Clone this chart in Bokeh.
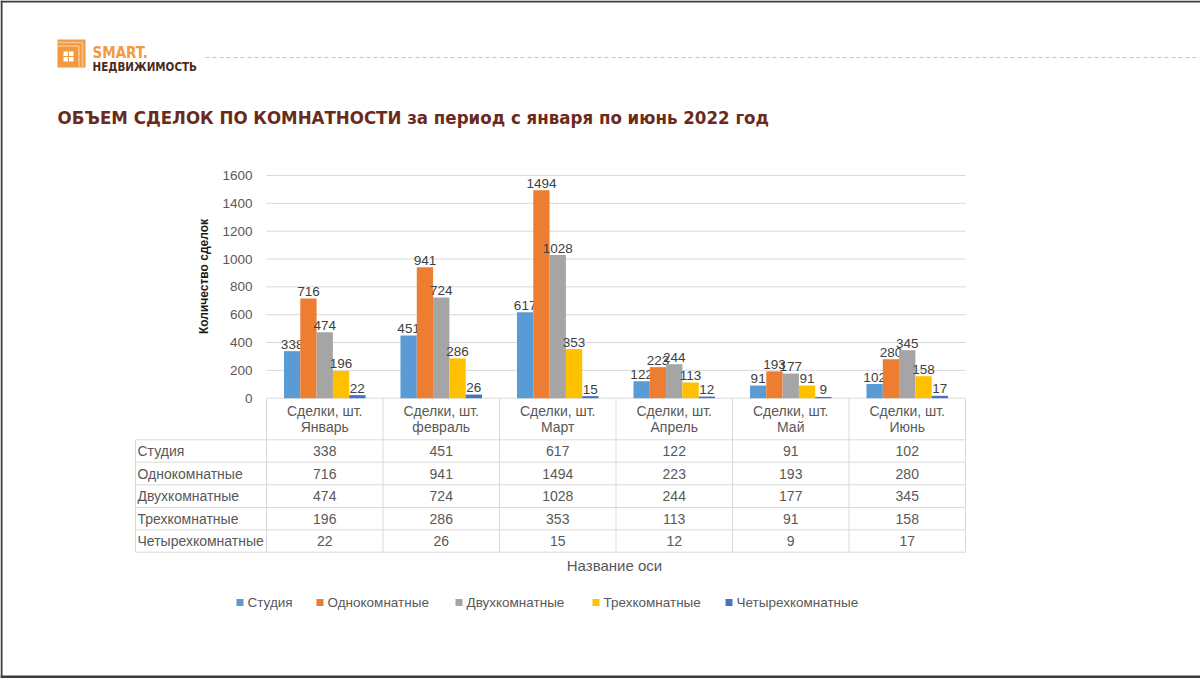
import math
from bokeh.plotting import figure
from bokeh.models import Range1d
from bokeh.core.properties import value
from bokeh.embed import file_html
from bokeh.resources import INLINE

# ---------------- data ----------------
months = ["Январь", "февраль", "Март", "Апрель", "Май", "Июнь"]
header_top = "Сделки, шт."
series = ["Студия", "Однокомнатные", "Двухкомнатные", "Трехкомнатные", "Четырехкомнатные"]
studio = [338, 451, 617, 122, 91, 102]
one_room = [716, 941, 1494, 223, 193, 280]
two_room = [474, 724, 1028, 244, 177, 345]
three_room = [196, 286, 353, 113, 91, 158]
four_room = [22, 26, 15, 12, 9, 17]
y_ticks = [0, 200, 400, 600, 800, 1000, 1200, 1400, 1600]
colors = ["#5B9BD5", "#ED7D31", "#A5A5A5", "#FFC000", "#4472C4"]
title_text = "ОБЪЕМ СДЕЛОК ПО КОМНАТНОСТИ за период с января по июнь 2022 год"
y_title = "Количество сделок"
x_title = "Название оси"
logo_top = "SMART."
logo_bottom = "НЕДВИЖИМОСТЬ"

values = [studio, one_room, two_room, three_room, four_room]

# ---------------- layout (reference pixel geometry) ----------------
W, H = 1200, 678
OFF = 0
PX0, PPX = 266.0, 116.5          # x of first category edge, px per category
PY0, PPY = 397.7, 222.7 / 1600   # y of value 0, px per unit


def X(rx):
    return (rx - PX0) / PPX


def Y(ry):
    return (PY0 - ry) / PPY


p = figure(width=W, height=H, output_backend="svg", toolbar_location=None,
           x_range=Range1d(X(OFF), X(OFF + W)), y_range=Range1d(Y(OFF + H), Y(OFF)),
           min_border=0, x_axis_location=None, y_axis_location=None,
           outline_line_color=None, background_fill_color="white")
p.grid.visible = False

FONT = value("Liberation Sans")
NARROW = value("'DejaVu Sans Condensed', Roboto, sans-serif")
GRID = "#d9d9d9"
TXT = "#595959"
LBL = "#404040"
n = len(months)

# window frame edges of the screenshot
p.quad(left=[X(0), X(0), X(0)], right=[X(W), X(2), X(W)],
       top=[Y(0), Y(0), Y(675)], bottom=[Y(2), Y(H), Y(H)],
       fill_color="#3c3c3c", line_color=None)

# gridlines
p.segment(x0=[0] * len(y_ticks), x1=[n] * len(y_ticks), y0=y_ticks, y1=y_ticks,
          line_color=GRID, line_width=1)
# y tick labels
p.text(x=[X(252)] * len(y_ticks), y=y_ticks, text=[str(t) for t in y_ticks],
       text_font=FONT, text_font_size="13.5px", text_color=TXT,
       text_align="right", text_baseline="middle")
# y axis title
p.text(x=[X(203)], y=[Y(276)], text=[y_title], angle=math.pi / 2,
       text_font=FONT, text_font_size="12px", text_font_style="bold",
       text_color="#1a1a1a", text_align="center", text_baseline="middle")

# bars + labels
bw = 0.14
for k, (vals, col) in enumerate(zip(values, colors)):
    xs = [i + 0.5 + (k - 2) * bw for i in range(n)]
    p.vbar(x=xs, top=vals, bottom=0, width=bw, fill_color=col, line_color=None)
    p.text(x=xs, y=vals, text=[str(v) for v in vals], text_font=FONT,
           text_font_size="13.5px", text_color=LBL, text_align="center",
           text_baseline="alphabetic", y_offset=-7)

# ---------------- data table ----------------
row_lines = [439.3, 461.7, 484.3, 507.0, 529.3, 551.7]
p.segment(x0=list(range(n + 1)), x1=list(range(n + 1)),
          y0=[0] * (n + 1), y1=[Y(row_lines[-1])] * (n + 1),
          line_color=GRID, line_width=1)
p.segment(x0=[X(135)], x1=[X(135)], y0=[Y(row_lines[0])], y1=[Y(row_lines[-1])],
          line_color=GRID, line_width=1)
p.segment(x0=[X(135)] * len(row_lines), x1=[n] * len(row_lines),
          y0=[Y(r) for r in row_lines], y1=[Y(r) for r in row_lines],
          line_color=GRID, line_width=1)
cx = [i + 0.5 for i in range(n)]
p.text(x=cx, y=[Y(410)] * n, text=[header_top] * n, text_font=FONT,
       text_font_size="14px", text_color=TXT, text_align="center", text_baseline="middle")
p.text(x=cx, y=[Y(426)] * n, text=months, text_font=FONT,
       text_font_size="14px", text_color=TXT, text_align="center", text_baseline="middle")
for r, (name, vals) in enumerate(zip(series, values)):
    yc = Y((row_lines[r] + row_lines[r + 1]) / 2)
    p.text(x=[X(137)], y=[yc], text=[name], text_font=FONT, text_font_size="14px",
           text_color=TXT, text_align="left", text_baseline="middle")
    p.text(x=cx, y=[yc] * n, text=[str(v) for v in vals], text_font=FONT,
           text_font_size="14px", text_color=TXT, text_align="center", text_baseline="middle")

p.text(x=[X(614)], y=[Y(565)], text=[x_title], text_font=FONT, text_font_size="15px",
       text_color=TXT, text_align="center", text_baseline="middle")

# ---------------- legend ----------------
leg_text_x = [247, 327, 466, 603, 736]
leg_y = 602
sq = 7
p.quad(left=[X(t - 11) for t in leg_text_x], right=[X(t - 11 + sq) for t in leg_text_x],
       top=[Y(leg_y - sq / 2)] * 5, bottom=[Y(leg_y + sq / 2)] * 5,
       fill_color=colors, line_color=None)
p.text(x=[X(t) for t in leg_text_x], y=[Y(leg_y)] * 5, text=series, text_font=FONT,
       text_font_size="13.5px", text_color=TXT, text_align="left", text_baseline="middle")

# ---------------- header: logo, dashed rule, title ----------------
ORANGE = "#F29A3F"
LIGHT = "#F8C48C"
p.quad(left=[X(57)], right=[X(85)], top=[Y(39)], bottom=[Y(67)], fill_color=ORANGE, line_color=None)
p.segment(x0=[X(57), X(57)], x1=[X(82), X(78.5)], y0=[Y(42), Y(45.5)], y1=[Y(42), Y(45.5)],
          line_color=LIGHT, line_width=1.5)
p.segment(x0=[X(82), X(78.5)], x1=[X(82), X(78.5)], y0=[Y(42), Y(45.5)], y1=[Y(67), Y(67)],
          line_color=LIGHT, line_width=1.5)
wl = [63, 68.5, 63, 68.5]
wt = [51, 51, 56.5, 56.5]
p.quad(left=[X(a) for a in wl], right=[X(a + 4.5) for a in wl],
       top=[Y(b) for b in wt], bottom=[Y(b + 4.5) for b in wt],
       fill_color="white", line_color=None)
p.text(x=[X(92)], y=[Y(52)], text=[logo_top], text_font=NARROW, text_font_size="15px",
       text_font_style="bold", text_color=ORANGE, text_align="left", text_baseline="alphabetic")
p.text(x=[X(92)], y=[Y(66.5)], text=[logo_bottom], text_font=NARROW, text_font_size="11.5px",
       text_font_style="bold", text_color="#4a2a1e", text_align="left", text_baseline="alphabetic")
p.line(x=[X(205), X(OFF + W)], y=[Y(57)] * 2, line_color="#d8c48c", line_width=1, line_dash="4 3")

p.text(x=[X(57)], y=[Y(117)], text=[title_text], text_font=NARROW, text_font_size="18.5px",
       text_font_style="bold", text_color="#6a2b1c", text_align="left", text_baseline="alphabetic")

open("out.html", "w").write(file_html(p, INLINE))
